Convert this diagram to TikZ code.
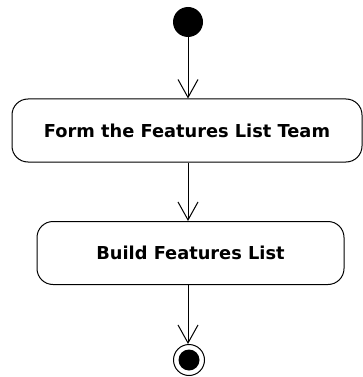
\documentclass[tikz,border=0pt]{standalone}
\usepackage{fontspec}
\setmainfont{DejaVu Sans}
\usetikzlibrary{arrows.meta}
\begin{document}
\begin{tikzpicture}[x=1pt,y=-1pt,
  act/.style={draw, line width=1pt, rounded corners=16pt, minimum height=63pt, font=\bfseries\fontsize{17.8}{20}\selectfont, inner sep=0pt},
  flow/.style={line width=1pt, -{Straight Barb[length=18pt, width=20pt, line width=1pt]}}]
\useasboundingbox (0,0) rectangle (363,377);
\node[circle, fill=black, minimum size=30pt, inner sep=0pt] (start) at (188,22) {};
\node[act, minimum width=350pt] (a1) at (187,130.5) {Form the Features List Team};
\node[act, minimum width=307pt] (a2) at (190.5,253) {Build Features List};
\node[circle, draw, line width=1pt, minimum size=31pt, inner sep=0pt] (end) at (189,360) {};
\node[circle, fill=black, minimum size=21pt, inner sep=0pt] (endin) at (end.center) {};
\draw[flow] (start) -- (start |- a1.north);
\draw[flow] (start |- a1.south) -- (start |- a2.north);
\draw[flow] (start |- a2.south) -- (start |- end.north);
\end{tikzpicture}
\end{document}
